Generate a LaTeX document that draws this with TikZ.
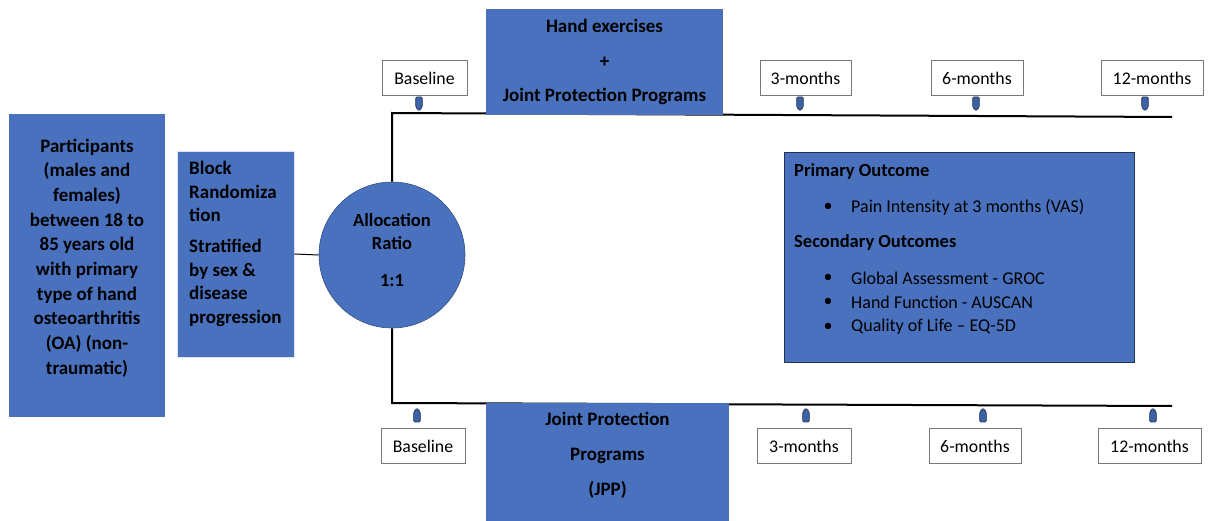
\documentclass[tikz,border=0pt]{standalone}
\usepackage{fontspec}
\setmainfont{Carlito}
\definecolor{armblue}{RGB}{73,113,189}
\definecolor{mkblue}{RGB}{62,98,166}
\definecolor{boxline}{RGB}{120,120,120}
\tikzset{
  bluebox/.style={fill=armblue, draw=none, inner sep=0pt},
  timebox/.style={draw=boxline, line width=1pt, fill=white, inner sep=0pt,
    font=\fontsize{17.8}{21}\selectfont},
  tline/.style={line width=2pt, draw=black},
  conn/.style={line width=1pt, draw=black},
  mk/.style={fill=mkblue, draw=black!45!mkblue, line width=0.7pt, rounded corners=1.2pt},
  mkdown/.pic={\draw[mk] (0,14) -- (-3.3,10) -- (-3.3,0) -- (3.3,0) -- (3.3,10) -- cycle;},
  mkup/.pic={\draw[mk] (0,0) -- (-3.3,4) -- (-3.3,14) -- (3.3,14) -- (3.3,4) -- cycle;},
  boldtext/.style={font=\bfseries\fontsize{19}{24.7}\selectfont, inner sep=0pt},
  outtext/.style={font=\fontsize{18}{21}\selectfont, inner sep=0pt, anchor=west},
  outhead/.style={outtext, font=\bfseries\fontsize{18.5}{21}\selectfont},
}
\begin{document}
\begin{tikzpicture}[x=1pt, y=-1pt]
\useasboundingbox (0,0) rectangle (1211,521);

% left boxes
\node[bluebox, minimum width=156pt, minimum height=303pt] (part) at (87,265.5) {};
\node[boldtext, align=center] (parttext) at (87,258) {Participants\\(males and\\females)\\between 18 to\\85 years old\\with primary\\type of hand\\osteoarthritis\\(OA) (non-\\traumatic)};

\node[bluebox, draw=white!80!armblue, line width=0.8pt, minimum width=117pt, minimum height=206pt] (block) at (235.5,254) {};
\node[boldtext, align=left, anchor=west, font=\bfseries\fontsize{19}{23.7}\selectfont] (blocktext) at (189,244) {Block\\Randomiza\\tion\\[7pt]Stratified\\by sex \&\\disease\\progression};

% allocation circle
\node[circle, fill=armblue, draw=black!30!armblue, line width=0.6pt, minimum size=146pt, inner sep=0pt] (alloc) at (392,255) {};
\node[font=\bfseries\fontsize{18.5}{23}\selectfont, align=center, inner sep=0pt] (alloctext) at (392,250) {Allocation\\Ratio\\[14pt]1:1};

\draw[conn] (block.east) -- (alloc.west);

% timelines
\coordinate (tl) at (392,113);
\coordinate (tr) at (1172,117);
\coordinate (bl) at (392,403);
\coordinate (br) at (1172,406);
\draw[tline] (alloc.north) -- (tl) -- (tr);
\draw[tline] (alloc.south) -- (bl) -- (br);

% arm boxes
\node[bluebox, minimum width=237pt, minimum height=106pt] (armA) at (604.5,62.5) {};
\node[boldtext, align=center, font=\bfseries\fontsize{19}{34.5}\selectfont] (armAtext) at (604.5,62) {Hand exercises\\+\\Joint Protection Programs};

\node[bluebox, minimum width=243pt, minimum height=118pt] (armB) at (607.5,462) {};
\node[boldtext, align=center, font=\bfseries\fontsize{19}{35}\selectfont] (armBtext) at (607.5,455) {Joint Protection\\Programs\\(JPP)};

% time boxes top
\node[timebox, minimum width=85pt, minimum height=35pt] (tb0) at (424.5,78.5) {Baseline};
\node[timebox, minimum width=91pt, minimum height=35pt] (tb3) at (805.5,78.5) {3-months};
\node[timebox, minimum width=92pt, minimum height=35pt] (tb6) at (977,78.5) {6-months};
\node[timebox, minimum width=102pt, minimum height=35pt] (tb12) at (1152,78.5) {12-months};

% time boxes bottom
\node[timebox, minimum width=84pt, minimum height=34pt] (bb0) at (423,446) {Baseline};
\node[timebox, minimum width=94pt, minimum height=34pt] (bb3) at (804,446) {3-months};
\node[timebox, minimum width=92pt, minimum height=34pt] (bb6) at (975,446) {6-months};
\node[timebox, minimum width=103pt, minimum height=34pt] (bb12) at (1149.5,446) {12-months};

% markers
\pic at (419,97) {mkdown};
\pic at (800,97) {mkdown};
\pic at (976,97) {mkdown};
\pic at (1145,97) {mkdown};
\pic at (417,408) {mkup};
\pic at (806,408) {mkup};
\pic at (983,408) {mkup};
\pic at (1153,408) {mkup};

% outcome box
\node[fill=armblue, draw=black!55!armblue, line width=1pt, minimum width=350pt, minimum height=210pt, inner sep=0pt] (outc) at (959,258) {};
\node[outhead] (prim) at (794,171) {Primary Outcome};
\node[outtext, anchor=center] (b1) at (828,207) {\textbullet};
\node[outtext] (o1) at (851,207) {Pain Intensity at 3 months (VAS)};
\node[outhead] (sec) at (794,242) {Secondary Outcomes};
\node[outtext, anchor=center] (b2) at (828,278) {\textbullet};
\node[outtext] (o2) at (851,278) {Global Assessment - GROC};
\node[outtext, anchor=center] (b3) at (828,302) {\textbullet};
\node[outtext] (o3) at (851,302) {Hand Function - AUSCAN};
\node[outtext, anchor=center] (b4) at (828,327) {\textbullet};
\node[outtext] (o4) at (851,327) {Quality of Life – EQ-5D};
\end{tikzpicture}
\end{document}
